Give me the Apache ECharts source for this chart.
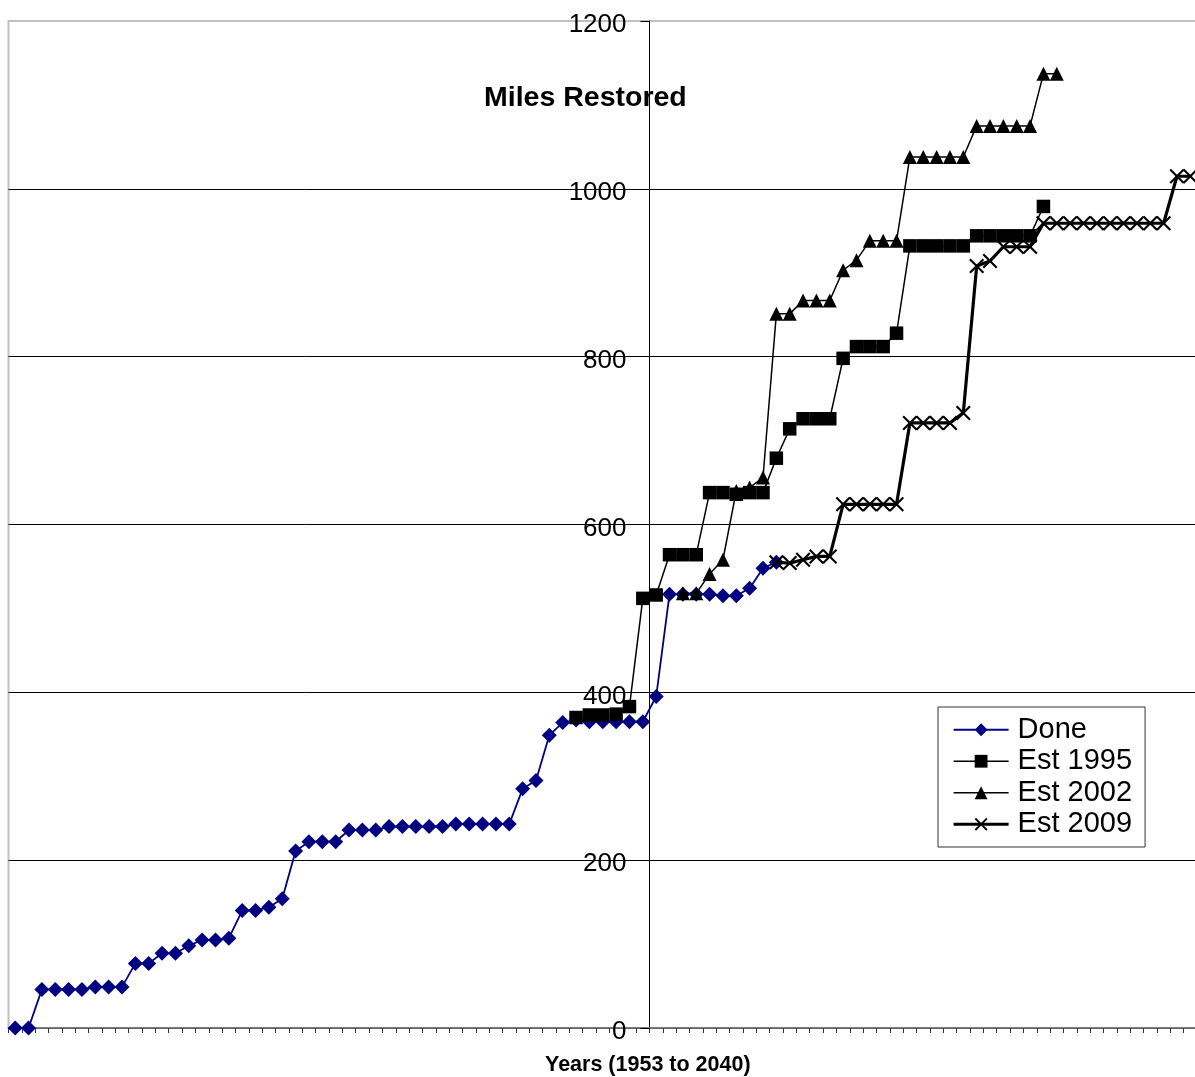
<!DOCTYPE html>
<html>
<head>
<meta charset="utf-8">
<script src="https://cdn.jsdelivr.net/npm/echarts@6/dist/echarts.min.js"></script>
<style>
html,body{margin:0;padding:0;background:#fff;}
#chart{width:1195px;height:1077px;}
</style>
</head>
<body>
<div id="chart"></div>
<script>
// Categories (years)
const years = [1953,1954,1955,1956,1957,1958,1959,1960,1961,1962,1963,1964,1965,1966,1967,1968,1969,1970,
  1971,1972,1973,1974,1975,1976,1977,1978,1979,1980,1981,1982,1983,1984,1985,1986,1987,1988,1989,1990,
  1991,1992,1993,1994,1995,1996,1997,1998,1999,2000,2001,2002,2003,2004,2005,2006,2007,2008,2009,2010,
  2011,2012,2013,2014,2015,2016,2017,2018,2019,2020,2021,2022,2023,2024,2025,2026,2027,2028,2029,2030,
  2031,2032,2033,2034,2035,2036,2037,2038,2039,2040,2041];

// Done (from 1953)
const doneStart = 1953;
const done = [0,0,46,46,46,46,49,49,49,77,77,89,89,98,105,105,107,140,140,144,154,211,222,222,222,
  236,236,236,240,240,240,240,240,243,243,243,243,243,285,295,349,364,367,365,365,365,365,365,395,
  517,517,517,517,515,515,524,548,555];

// Est 1995 (from 1995)
const est1995Start = 1995;
const est1995 = [370,373,373,374,383,512,516,564,564,564,638,638,636,638,638,679,714,726,726,726,
  798,812,812,812,828,932,932,932,932,932,944,944,944,944,944,979];

// Est 2002 (from 2003)
const est2002Start = 2003;
const est2002 = [518,518,541,558,640,644,656,851,851,867,867,867,903,915,938,938,938,
  1038,1038,1038,1038,1038,1075,1075,1075,1075,1075,1137,1137];

// Est 2009 (from 2010)
const est2009Start = 2010;
const est2009 = [555,554,558,562,562,624,624,624,624,624,721,721,721,721,733,908,914,931,931,931,
  959,959,959,959,959,959,959,959,959,959,1015,1015];

// Y-axis ticks
const yTicks = [0,200,400,600,800,1000,1200];

function align(start, vals) {
  return years.map(y => {
    const k = y - start;
    return (k >= 0 && k < vals.length) ? vals[k] : null;
  });
}

const FONT = '"Liberation Sans", Arial, sans-serif';
const xSym = 'path://M0,2 L2,0 L10,8 L18,0 L20,2 L12,10 L20,18 L18,20 L10,12 L2,20 L0,18 L8,10 Z';

const gridLeft = 8.5, gridRight = -2;
const chartW = 1195;
const catW = (chartW - gridLeft - gridRight) / years.length;
const yAxisX = gridLeft + 48 * catW;

const chart = echarts.init(document.getElementById('chart'), null, {renderer: 'canvas'});
chart.setOption({
  animation: false,
  backgroundColor: '#ffffff',
  grid: {
    left: gridLeft, right: gridRight, top: 21, bottom: 49,
    show: true, borderColor: '#c0c0c0', borderWidth: 2, backgroundColor: 'transparent',
    containLabel: false, outerBoundsMode: 'none'
  },
  xAxis: {
    type: 'category',
    data: years,
    boundaryGap: true,
    axisLine: {show: true, lineStyle: {color: '#666', width: 1.6}},
    axisTick: {show: true, interval: 0, length: 5, inside: false, lineStyle: {color: '#333', width: 1}},
    axisLabel: {show: false},
    splitLine: {show: false}
  },
  yAxis: {
    type: 'value',
    min: yTicks[0], max: yTicks[yTicks.length - 1], interval: 200,
    position: 'left',
    offset: -(yAxisX - gridLeft),
    axisLine: {show: true, lineStyle: {color: '#000', width: 1}},
    axisTick: {show: true, length: 9, lineStyle: {color: '#000', width: 1}},
    axisLabel: {show: true, color: '#000', fontSize: 26, fontFamily: FONT, margin: 23,
      verticalAlign: 'top', lineHeight: 8,
      formatter: v => String(v)},
    splitLine: {show: true, lineStyle: {color: ['#6e6e6e','#000','#000','#000','#000','#000','#c0c0c0'], width: 1}}
  },
  legend: {
    show: true,
    orient: 'vertical',
    left: 938, top: 707,
    padding: [8, 13, 8, 14],
    itemGap: 2,
    itemWidth: 55,
    itemHeight: 16,
    backgroundColor: '#fff',
    borderColor: '#333',
    borderWidth: 1,
    textStyle: {color: '#000', fontSize: 29, fontFamily: FONT, lineHeight: 29.5, padding: [0, 0, 0, 4]},
    data: [
      {name: 'Done', lineStyle: {width: 1.8, color: '#000080'}},
      {name: 'Est 1995', lineStyle: {width: 1.5, color: '#000'}},
      {name: 'Est 2002', lineStyle: {width: 1.5, color: '#000'}},
      {name: 'Est 2009', lineStyle: {width: 3.2, color: '#000'}}
    ]
  },
  graphic: [
    {type: 'text', left: 484, top: 84, z: 100,
     style: {text: 'Miles Restored', font: 'bold 28.5px ' + FONT, fill: '#000'}},
    {type: 'text', left: 545, top: 1054, z: 100,
     style: {text: 'Years (1953 to 2040)', font: 'bold 21.5px ' + FONT, fill: '#000'}}
  ],
  series: [
    {
      name: 'Done', type: 'line', data: align(doneStart, done),
      symbol: 'diamond', symbolSize: 15, showAllSymbol: true,
      lineStyle: {color: '#000080', width: 1.8},
      itemStyle: {color: '#000080'},
      z: 2
    },
    {
      name: 'Est 1995', type: 'line', data: align(est1995Start, est1995),
      symbol: 'rect', symbolSize: 13.5, showAllSymbol: true,
      lineStyle: {color: '#000', width: 1.5},
      itemStyle: {color: '#000'},
      z: 3
    },
    {
      name: 'Est 2002', type: 'line', data: align(est2002Start, est2002),
      symbol: 'triangle', symbolSize: 14, showAllSymbol: true,
      lineStyle: {color: '#000', width: 1.5},
      itemStyle: {color: '#000'},
      z: 4
    },
    {
      name: 'Est 2009', type: 'line', data: align(est2009Start, est2009),
      symbol: xSym, symbolSize: 15, showAllSymbol: true,
      lineStyle: {color: '#000', width: 3.2},
      itemStyle: {color: '#000'},
      z: 5
    }
  ]
});
</script>
</body>
</html>
